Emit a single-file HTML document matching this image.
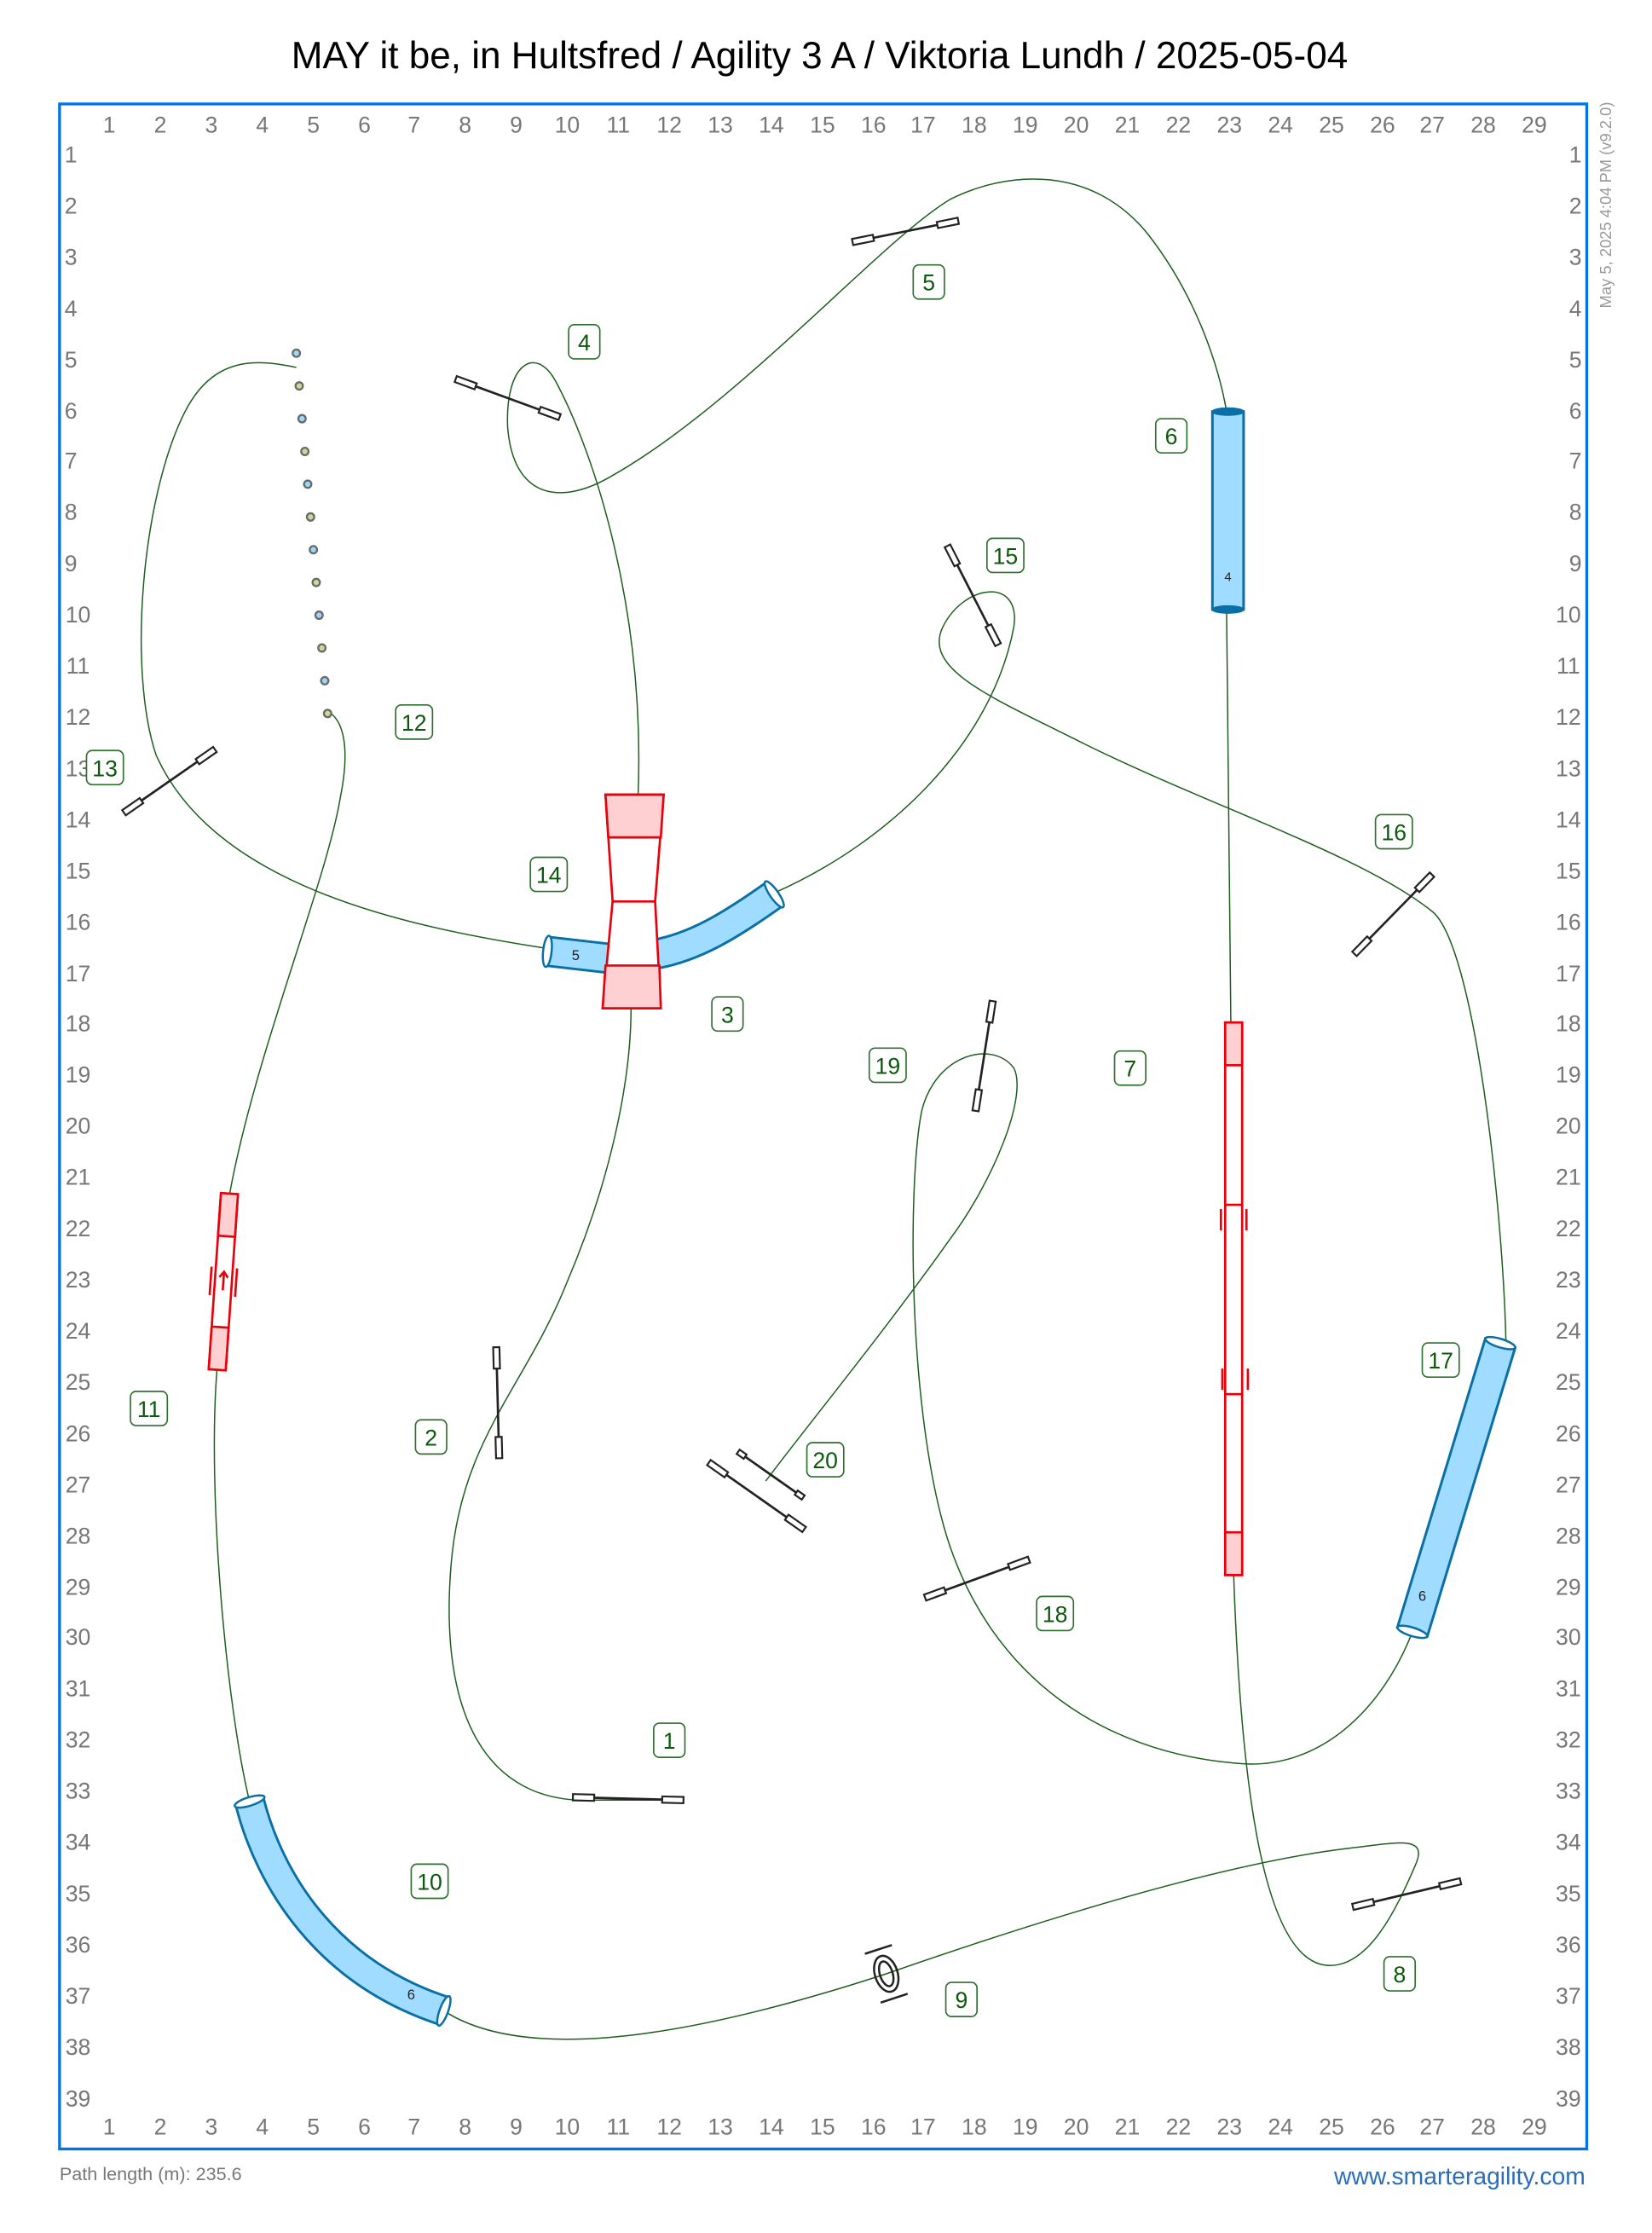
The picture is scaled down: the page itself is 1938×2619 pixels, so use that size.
<!DOCTYPE html>
<html><head><meta charset="utf-8"><style>
html,body{margin:0;padding:0;background:#fff;}
svg{display:block;}
text{font-family:"Liberation Sans",sans-serif;}
.ax{fill:#777;font-size:16px;text-anchor:middle;}
.nb rect{fill:#fff;stroke:#2f6f2f;stroke-width:1;}
.nb text{fill:#0b5a0b;font-size:16px;text-anchor:middle;}
.f line{stroke:#222;stroke-width:1.6;}
.f rect{fill:#fff;stroke:#222;stroke-width:1.3;}
.p{fill:none;stroke:#1d5e1d;stroke-width:0.9;}
.tu{fill:#a0dcff;stroke:#0a6fa5;stroke-width:1.8;}
.ce{fill:#fff;stroke:#0a6fa5;stroke-width:1.5;}
.rd{stroke:#e8000b;stroke-width:1.6;fill:#fff;}
.pk{stroke:#e8000b;stroke-width:1.6;fill:#ffd0d2;}
</style></head><body>
<svg width="1938" height="2619" viewBox="0 0 1165 1568" preserveAspectRatio="none" xmlns="http://www.w3.org/2000/svg">
<text x="578" y="48" font-size="26.5" text-anchor="middle" fill="#000">MAY it be, in Hultsfred / Agility 3 A / Viktoria Lundh / 2025-05-04</text>
<rect x="42" y="73" width="1077" height="1436" fill="none" stroke="#0073e6" stroke-width="2"/>
<text transform="translate(1136,144) rotate(-90)" font-size="11" fill="#999" text-anchor="middle">May 5, 2025 4:04 PM  (v9.2.0)</text>
<text x="42" y="1531" font-size="13" fill="#777">Path length (m): 235.6</text>
<text x="1118" y="1534" font-size="17" fill="#2a6ebb" text-anchor="end">www.smarteragility.com</text>
<g class="ax">
<text x="77" y="93">1</text><text x="113" y="93">2</text><text x="149" y="93">3</text><text x="185" y="93">4</text><text x="221" y="93">5</text><text x="257" y="93">6</text><text x="292" y="93">7</text><text x="328" y="93">8</text><text x="364" y="93">9</text><text x="400" y="93">10</text><text x="436" y="93">11</text><text x="472" y="93">12</text><text x="508" y="93">13</text><text x="544" y="93">14</text><text x="580" y="93">15</text><text x="616" y="93">16</text><text x="651" y="93">17</text><text x="687" y="93">18</text><text x="723" y="93">19</text><text x="759" y="93">20</text><text x="795" y="93">21</text><text x="831" y="93">22</text><text x="867" y="93">23</text><text x="903" y="93">24</text><text x="939" y="93">25</text><text x="975" y="93">26</text><text x="1010" y="93">27</text><text x="1046" y="93">28</text><text x="1082" y="93">29</text>
<text x="77" y="1499">1</text><text x="113" y="1499">2</text><text x="149" y="1499">3</text><text x="185" y="1499">4</text><text x="221" y="1499">5</text><text x="257" y="1499">6</text><text x="292" y="1499">7</text><text x="328" y="1499">8</text><text x="364" y="1499">9</text><text x="400" y="1499">10</text><text x="436" y="1499">11</text><text x="472" y="1499">12</text><text x="508" y="1499">13</text><text x="544" y="1499">14</text><text x="580" y="1499">15</text><text x="616" y="1499">16</text><text x="651" y="1499">17</text><text x="687" y="1499">18</text><text x="723" y="1499">19</text><text x="759" y="1499">20</text><text x="795" y="1499">21</text><text x="831" y="1499">22</text><text x="867" y="1499">23</text><text x="903" y="1499">24</text><text x="939" y="1499">25</text><text x="975" y="1499">26</text><text x="1010" y="1499">27</text><text x="1046" y="1499">28</text><text x="1082" y="1499">29</text>
</g>
<g class="ax">
<text x="50" y="114">1</text><text x="50" y="150">2</text><text x="50" y="186">3</text><text x="50" y="222">4</text><text x="50" y="258">5</text><text x="50" y="294">6</text><text x="50" y="329">7</text><text x="50" y="365">8</text><text x="50" y="401">9</text><text x="55" y="437">10</text><text x="55" y="473">11</text><text x="55" y="509">12</text><text x="55" y="545">13</text><text x="55" y="581">14</text><text x="55" y="617">15</text><text x="55" y="653">16</text><text x="55" y="689">17</text><text x="55" y="724">18</text><text x="55" y="760">19</text><text x="55" y="796">20</text><text x="55" y="832">21</text><text x="55" y="868">22</text><text x="55" y="904">23</text><text x="55" y="940">24</text><text x="55" y="976">25</text><text x="55" y="1012">26</text><text x="55" y="1048">27</text><text x="55" y="1084">28</text><text x="55" y="1120">29</text><text x="55" y="1155">30</text><text x="55" y="1191">31</text><text x="55" y="1227">32</text><text x="55" y="1263">33</text><text x="55" y="1299">34</text><text x="55" y="1335">35</text><text x="55" y="1371">36</text><text x="55" y="1407">37</text><text x="55" y="1443">38</text><text x="55" y="1479">39</text>
<text x="1111" y="114">1</text><text x="1111" y="150">2</text><text x="1111" y="186">3</text><text x="1111" y="222">4</text><text x="1111" y="258">5</text><text x="1111" y="294">6</text><text x="1111" y="329">7</text><text x="1111" y="365">8</text><text x="1111" y="401">9</text><text x="1106" y="437">10</text><text x="1106" y="473">11</text><text x="1106" y="509">12</text><text x="1106" y="545">13</text><text x="1106" y="581">14</text><text x="1106" y="617">15</text><text x="1106" y="653">16</text><text x="1106" y="689">17</text><text x="1106" y="724">18</text><text x="1106" y="760">19</text><text x="1106" y="796">20</text><text x="1106" y="832">21</text><text x="1106" y="868">22</text><text x="1106" y="904">23</text><text x="1106" y="940">24</text><text x="1106" y="976">25</text><text x="1106" y="1012">26</text><text x="1106" y="1048">27</text><text x="1106" y="1084">28</text><text x="1106" y="1120">29</text><text x="1106" y="1155">30</text><text x="1106" y="1191">31</text><text x="1106" y="1227">32</text><text x="1106" y="1263">33</text><text x="1106" y="1299">34</text><text x="1106" y="1335">35</text><text x="1106" y="1371">36</text><text x="1106" y="1407">37</text><text x="1106" y="1443">38</text><text x="1106" y="1479">39</text>
</g>

<g class="p">
<path d="M470,1264 L420,1264 C340,1268 310,1200 318,1100 C325,1010 370,975 400,900 C430,830 445,760 445,708"/>
<path d="M450,558 C455,430 420,320 392,268 C378,242 356,255 358,300 C362,350 395,355 430,335 C520,285 620,170 670,140 C710,120 770,115 810,165 C845,210 860,260 865,289"/>
<path d="M865,428 L868,718"/>
<path d="M870,1106 C875,1250 890,1375 935,1380 C965,1383 985,1340 998,1310 C1008,1288 985,1294 950,1298 C850,1310 700,1360 625,1386 C520,1420 380,1455 313,1412"/>
<path d="M176,1265 C160,1200 146,1050 153,962"/>
<path d="M162,838 C180,740 230,620 240,560 C248,520 240,505 232,500"/>
<path d="M209,258 C180,252 150,250 130,290 C100,350 90,470 110,530 C150,620 280,650 386,666"/>
<path d="M546,627 C630,590 700,520 715,440 C720,405 680,410 665,440 C650,470 700,490 760,520 C850,565 960,600 1010,640 C1040,664 1060,850 1062,943"/>
<path d="M996,1146 C975,1200 930,1245 870,1238 C780,1230 700,1180 668,1080 C640,990 640,830 650,780 C660,740 700,730 715,750 C725,770 700,830 670,870 C620,940 570,1000 540,1040"/>
</g>

<g class="f" transform="translate(638.5,162.5) rotate(-11.3)"><line x1="-38" x2="38"/><rect x="-38" y="-2.2" width="15" height="4.4"/><rect x="23" y="-2.2" width="15" height="4.4"/></g>
<g class="f" transform="translate(358,279.5) rotate(20)"><line x1="-39" x2="39"/><rect x="-39" y="-2.2" width="15" height="4.4"/><rect x="24" y="-2.2" width="15" height="4.4"/></g>
<g class="f" transform="translate(119.5,548.5) rotate(-34.7)"><line x1="-39" x2="39"/><rect x="-39" y="-2.2" width="15" height="4.4"/><rect x="24" y="-2.2" width="15" height="4.4"/></g>
<g class="f" transform="translate(686,418) rotate(62.8)"><line x1="-39" x2="39"/><rect x="-39" y="-2.2" width="15" height="4.4"/><rect x="24" y="-2.2" width="15" height="4.4"/></g>
<g class="f" transform="translate(982.5,642) rotate(-45.5)"><line x1="-39" x2="39"/><rect x="-39" y="-2.2" width="15" height="4.4"/><rect x="24" y="-2.2" width="15" height="4.4"/></g>
<g class="f" transform="translate(694,741.5) rotate(98.9)"><line x1="-39" x2="39"/><rect x="-39" y="-2.2" width="15" height="4.4"/><rect x="24" y="-2.2" width="15" height="4.4"/></g>
<g class="f" transform="translate(351,985) rotate(88.5)"><line x1="-39" x2="39"/><rect x="-39" y="-2.2" width="15" height="4.4"/><rect x="24" y="-2.2" width="15" height="4.4"/></g>
<g class="f" transform="translate(533.5,1050.5) rotate(35)"><line x1="-41" x2="41"/><rect x="-41" y="-2.2" width="15" height="4.4"/><rect x="26" y="-2.2" width="15" height="4.4"/></g>
<g class="f" transform="translate(543.5,1035.5) rotate(35)"><line x1="-28" x2="28"/><rect x="-28" y="-1.8" width="6" height="3.6"/><rect x="22" y="-1.8" width="6" height="3.6"/></g>
<g class="f" transform="translate(689,1108.5) rotate(-20)"><line x1="-39" x2="39"/><rect x="-39" y="-2.2" width="15" height="4.4"/><rect x="24" y="-2.2" width="15" height="4.4"/></g>
<g class="f" transform="translate(443,1263) rotate(1.5)"><line x1="-39" x2="39"/><rect x="-39" y="-2.2" width="15" height="4.4"/><rect x="24" y="-2.2" width="15" height="4.4"/></g>
<g class="f" transform="translate(992,1330) rotate(-13.3)"><line x1="-39" x2="39"/><rect x="-39" y="-2.2" width="15" height="4.4"/><rect x="24" y="-2.2" width="15" height="4.4"/></g>

<g transform="translate(625,1386) rotate(-18)" fill="none" stroke="#222" stroke-width="1.5">
<ellipse rx="8" ry="13"/><ellipse rx="4.5" ry="9"/>
<line x1="-10" y1="-18" x2="10" y2="-18"/><line x1="-10" y1="18" x2="10" y2="18"/>
</g>

<g stroke="#6a6a6a" stroke-width="1.4">
<circle cx="209" cy="248" r="2.6" fill="#9ad8f8"/><circle cx="211" cy="271" r="2.6" fill="#c6dc96"/><circle cx="213" cy="294" r="2.6" fill="#9ad8f8"/><circle cx="215" cy="317" r="2.6" fill="#c6dc96"/><circle cx="217" cy="340" r="2.6" fill="#9ad8f8"/><circle cx="219" cy="363" r="2.6" fill="#c6dc96"/><circle cx="221" cy="386" r="2.6" fill="#9ad8f8"/><circle cx="223" cy="409" r="2.6" fill="#c6dc96"/><circle cx="225" cy="432" r="2.6" fill="#9ad8f8"/><circle cx="227" cy="455" r="2.6" fill="#c6dc96"/><circle cx="229" cy="478" r="2.6" fill="#9ad8f8"/><circle cx="231" cy="501" r="2.6" fill="#c6dc96"/>
</g>

<rect class="tu" x="855" y="289" width="22" height="139"/>
<ellipse cx="866" cy="289" rx="11" ry="2.5" fill="#0a6fa5" stroke="#0a6fa5"/>
<ellipse cx="866" cy="428" rx="11" ry="2.5" fill="#0a6fa5" stroke="#0a6fa5"/>
<text x="866" y="408" font-size="9" text-anchor="middle" fill="#222">4</text>

<g transform="translate(1027,1044.5) rotate(17)">
<rect class="tu" x="-11" y="-106" width="22" height="212"/>
<ellipse class="ce" cx="0" cy="-106" rx="11" ry="3"/>
<ellipse class="ce" cx="0" cy="106" rx="11" ry="3"/>
</g>
<text x="1003" y="1124" font-size="10" text-anchor="middle" fill="#222">6</text>

<path d="M176,1265 C190,1320 230,1385 313,1412" fill="none" stroke="#0a6fa5" stroke-width="22"/>
<path d="M176,1265 C190,1320 230,1385 313,1412" fill="none" stroke="#a0dcff" stroke-width="18.5"/>
<ellipse cx="176" cy="1265" rx="11" ry="3" transform="rotate(-17 176 1265)" class="ce"/>
<ellipse cx="313" cy="1412" rx="3" ry="11" transform="rotate(20 313 1412)" class="ce"/>
<text x="290" y="1404" font-size="10" text-anchor="middle" fill="#222">6</text>

<path d="M386,668 L430,673" fill="none" stroke="#0a6fa5" stroke-width="22"/>
<path d="M386,668 L430,673" fill="none" stroke="#a0dcff" stroke-width="18.5"/>
<path d="M462,670 C490,665 515,650 546,628" fill="none" stroke="#0a6fa5" stroke-width="22"/>
<path d="M462,670 C490,665 515,650 546,628" fill="none" stroke="#a0dcff" stroke-width="18.5"/>
<ellipse cx="386" cy="668" rx="3" ry="11" transform="rotate(6 386 668)" class="ce"/>
<ellipse cx="546" cy="628" rx="3" ry="11" transform="rotate(-35 546 628)" class="ce"/>
<text x="406" y="674" font-size="10" text-anchor="middle" fill="#222">5</text>

<polygon class="rd" points="427,558 468,558 462,633 466,708 425,708 432,633"/>
<polygon class="pk" points="427,558 468,558 466,588 429,588"/>
<polygon class="pk" points="427,678 465,678 466,708 425,708"/>
<line class="rd" x1="432" y1="633" x2="462" y2="633"/>

<rect class="rd" x="864" y="718" width="12" height="388"/>
<rect class="pk" x="864" y="718" width="12" height="30"/>
<rect class="pk" x="864" y="1076" width="12" height="30"/>
<line class="rd" x1="864" y1="846" x2="876" y2="846"/>
<line class="rd" x1="864" y1="979" x2="876" y2="979"/>
<g stroke="#e8000b" stroke-width="1.6"><line x1="861" y1="849" x2="861" y2="864"/><line x1="879" y1="849" x2="879" y2="864"/><line x1="862" y1="961" x2="862" y2="976"/><line x1="880" y1="961" x2="880" y2="976"/></g>

<g transform="translate(157.5,900) rotate(4)">
<rect class="rd" x="-6" y="-62" width="12" height="124"/>
<rect class="pk" x="-6" y="-62" width="12" height="30"/>
<rect class="pk" x="-6" y="32" width="12" height="30"/>
<g stroke="#e8000b" stroke-width="1.6" fill="none"><line x1="-9" y1="-10" x2="-9" y2="10"/><line x1="9" y1="-10" x2="9" y2="10"/><line x1="0" y1="6" x2="0" y2="-6"/><polyline points="-3,-3 0,-7 3,-3"/></g>
</g>

<g class="nb">
<rect x="461" y="1210" width="22" height="24" rx="4"/><text x="472" y="1228">1</text>
<rect x="293" y="997" width="22" height="24" rx="4"/><text x="304" y="1015">2</text>
<rect x="502" y="700" width="22" height="24" rx="4"/><text x="513" y="718">3</text>
<rect x="401" y="228" width="22" height="24" rx="4"/><text x="412" y="246">4</text>
<rect x="644" y="186" width="22" height="24" rx="4"/><text x="655" y="204">5</text>
<rect x="815" y="294" width="22" height="24" rx="4"/><text x="826" y="312">6</text>
<rect x="786" y="738" width="22" height="24" rx="4"/><text x="797" y="756">7</text>
<rect x="976" y="1374" width="22" height="24" rx="4"/><text x="987" y="1392">8</text>
<rect x="667" y="1392" width="22" height="24" rx="4"/><text x="678" y="1410">9</text>
<rect x="290" y="1309" width="26" height="24" rx="4"/><text x="303" y="1327">10</text>
<rect x="92" y="977" width="26" height="24" rx="4"/><text x="105" y="995">11</text>
<rect x="279" y="495" width="26" height="24" rx="4"/><text x="292" y="513">12</text>
<rect x="61" y="527" width="26" height="24" rx="4"/><text x="74" y="545">13</text>
<rect x="374" y="602" width="26" height="24" rx="4"/><text x="387" y="620">14</text>
<rect x="696" y="378" width="26" height="24" rx="4"/><text x="709" y="396">15</text>
<rect x="970" y="572" width="26" height="24" rx="4"/><text x="983" y="590">16</text>
<rect x="1003" y="943" width="26" height="24" rx="4"/><text x="1016" y="961">17</text>
<rect x="731" y="1121" width="26" height="24" rx="4"/><text x="744" y="1139">18</text>
<rect x="613" y="736" width="26" height="24" rx="4"/><text x="626" y="754">19</text>
<rect x="569" y="1013" width="26" height="24" rx="4"/><text x="582" y="1031">20</text>
</g>
</svg>
</body></html>
